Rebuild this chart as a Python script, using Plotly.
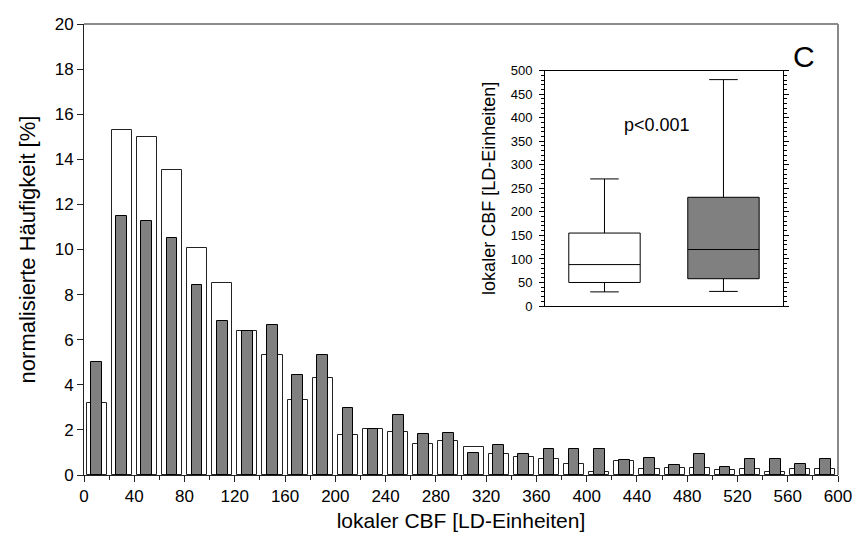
import plotly.graph_objects as go

# Histogram of local CBF (bin width 20 LD units)
bin_centers = list(range(10, 600, 20))
haeufigkeit_weiss = [3.19, 15.29, 15.00, 13.51, 10.07, 8.52, 6.39, 5.30, 3.32, 4.31,
                     1.76, 2.06, 1.90, 1.36, 1.51, 1.26, 0.92, 0.79, 0.73, 0.47,
                     0.12, 0.61, 0.25, 0.30, 0.33, 0.21, 0.25, 0.12, 0.25, 0.28]
haeufigkeit_grau = [5.00, 11.48, 11.26, 10.52, 8.43, 6.84, 6.39, 6.65, 4.43, 5.32,
                    2.98, 2.04, 2.67, 1.82, 1.85, 0.98, 1.33, 0.92, 1.16, 1.16,
                    1.16, 0.67, 0.76, 0.44, 0.93, 0.37, 0.71, 0.71, 0.49, 0.71]
x_ticks = list(range(0, 601, 40))

# Box plot statistics (LD units)
box_pos = [0, 1]
box_lower = [30, 31]
box_q1 = [50, 58]
box_median = [88, 120]
box_q3 = [155, 231]
box_upper = [270, 481]
box_colors = ["white", "#808080"]

FONT = "Liberation Sans, Arial, sans-serif"

fig = go.Figure()

fig.add_trace(go.Bar(x=bin_centers, y=haeufigkeit_weiss, width=16,
                     marker=dict(color="white", line=dict(color="#222", width=1)),
                     showlegend=False))
fig.add_trace(go.Bar(x=bin_centers, y=haeufigkeit_grau, width=8.5,
                     marker=dict(color="#808080", line=dict(color="black", width=1)),
                     showlegend=False))

for i in range(2):
    fig.add_trace(go.Box(x=[box_pos[i]], q1=[box_q1[i]], median=[box_median[i]],
                         q3=[box_q3[i]], lowerfence=[box_lower[i]],
                         upperfence=[box_upper[i]], width=0.6, whiskerwidth=0.4,
                         fillcolor=box_colors[i], boxpoints=False,
                         line=dict(color="black", width=1),
                         xaxis="x2", yaxis="y2", showlegend=False))

fig.update_layout(
    width=854, height=546,
    margin=dict(l=84, r=16, t=24, b=71),
    paper_bgcolor="white", plot_bgcolor="white",
    barmode="overlay", bargap=0,
    font=dict(family=FONT, color="black"),
    xaxis=dict(range=[0, 600], tickvals=x_ticks, ticks="outside", ticklen=6,
               tickcolor="#222", automargin=False,
               minor=dict(dtick=20, tick0=0, ticks="outside", ticklen=4, tickcolor="#222"),
               showline=True, linecolor="#222", linewidth=1, showgrid=False, zeroline=False,
               tickfont=dict(size=17),
               title=dict(text="lokaler CBF [LD-Einheiten]", font=dict(size=21), standoff=7)),
    yaxis=dict(range=[0, 20], dtick=2, ticks="outside", ticklen=6, tickcolor="#222",
               automargin=False,
               showline=True, linecolor="#222", linewidth=1, showgrid=False, zeroline=False,
               tickfont=dict(size=17),
               title=dict(text="normalisierte Häufigkeit [%]", font=dict(size=22), standoff=12)),
    xaxis2=dict(domain=[0.6114, 0.927], anchor="y2", range=[-0.5, 1.5], automargin=False,
                showticklabels=False, ticks="", showline=True, mirror=True,
                linecolor="black", linewidth=1, showgrid=False, zeroline=False),
    yaxis2=dict(domain=[0.3747, 0.8965], anchor="x2", range=[0, 500], dtick=50,
                ticks="outside", ticklen=5, tickcolor="black", automargin=False,
                ticklabelstandoff=4,
                minor=dict(dtick=10, ticks="outside", ticklen=3, tickcolor="black"),
                showline=True, mirror="ticks", linecolor="black", linewidth=1,
                showgrid=False, zeroline=False, tickfont=dict(size=13),
                title=dict(text="lokaler CBF [LD-Einheiten]", font=dict(size=18), standoff=10)),
    shapes=[
        dict(type="line", xref="x domain", yref="y domain", x0=0, x1=1, y0=1, y1=1,
             line=dict(color="#666", width=1.5)),
        dict(type="line", xref="x domain", yref="y domain", x0=1, x1=1, y0=0, y1=1,
             line=dict(color="#888", width=2)),
    ],
    annotations=[
        dict(text="p<0.001", x=0.44, y=385, xref="x2", yref="y2", showarrow=False,
             xanchor="center", yanchor="middle", font=dict(size=18)),
        dict(text="C", x=0.955, y=0.929, xref="paper", yref="paper", showarrow=False,
             xanchor="center", yanchor="middle", font=dict(size=30)),
    ],
)

fig.write_html("out.html")
